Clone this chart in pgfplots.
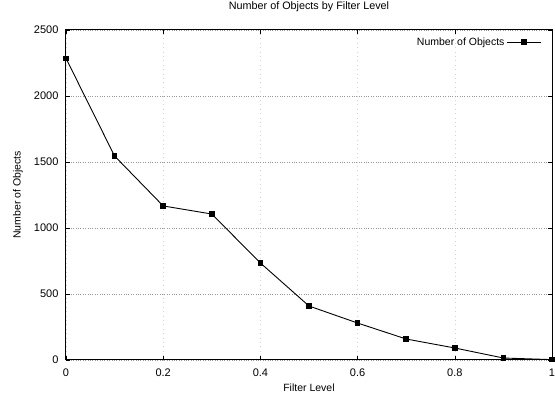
\documentclass[border=0pt]{standalone}
\usepackage{pgfplots}
\pgfplotsset{compat=1.18}
\usepackage{fontspec}
\setmainfont{Liberation Sans}
\begin{document}
\begin{tikzpicture}
\begin{axis}[
  scale only axis,
  width=486pt, height=330pt,
  xmin=0, xmax=1, ymin=0, ymax=2500,
  xtick={0,0.2,0.4,0.6,0.8,1},
  ytick={0,500,1000,1500,2000,2500},
  xticklabels={0,0.2,0.4,0.6,0.8,1},
  /pgf/number format/fixed,
  /pgf/number format/1000 sep={},
  /pgf/number format/assume math mode=true,
  tick label style={font=\fontsize{11}{13}\selectfont},
  xticklabel style={anchor=center, yshift=-13pt},
  yticklabel style={anchor=east, xshift=-4pt},
  label style={font=\fontsize{10.5}{12}\selectfont},
  title style={font=\fontsize{10.8}{12}\selectfont, at={(axis description cs:0.5,1.0515)}, anchor=center},
  title={Number of Objects by Filter Level},
  xlabel={Filter Level},
  ylabel={Number of Objects},
  xlabel style={at={(axis description cs:0.5,-0.085)}, anchor=center},
  ylabel style={at={(axis description cs:-0.0988,0.5)}, anchor=center},
  ymajorgrids, xmajorgrids,
  major y grid style={dotted, gray!80, line width=0.5pt},
  major x grid style={loosely dotted, gray!35, line width=0.4pt},
  axis line style={line width=1pt},
  tick style={black, line width=0.6pt},
  major tick length=4pt,
  tick align=inside,
  legend style={draw=none, fill=none, at={(axis description cs:0.985,0.99)}, anchor=north east,
    font=\fontsize{10.5}{12}\selectfont, legend cell align=right},
  legend plot pos=right,
  legend image code/.code={\draw[mark repeat=2, mark phase=2] plot coordinates {(0cm,0cm) (0.6cm,0cm) (1.2cm,0cm)};},
]
\addplot[black, line width=0.9pt, mark=square*, mark size=2.3pt] coordinates {
  (0,2285) (0.1,1545) (0.2,1167) (0.3,1106) (0.4,735) (0.5,409)
  (0.6,280) (0.7,159) (0.8,91) (0.9,15) (1.0,3)
};
\addlegendentry{Number of Objects}
\end{axis}
\pgfresetboundingbox
\useasboundingbox ([shift={(-66pt,-36pt)}]current axis.south west) rectangle ([shift={(3pt,30pt)}]current axis.north east);
\end{tikzpicture}
\end{document}
